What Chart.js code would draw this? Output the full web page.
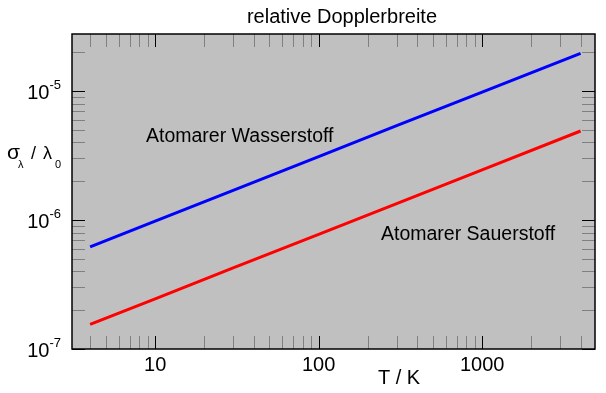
<!DOCTYPE html>
<html>
<head>
<meta charset="utf-8">
<script src="https://cdnjs.cloudflare.com/ajax/libs/Chart.js/4.4.1/chart.umd.min.js"></script>
<style>
  html, body { margin: 0; padding: 0; background: #fff; }
  #wrap { width: 606px; height: 393px; }
</style>
</head>
<body>
<div id="wrap"><canvas id="c" width="606" height="393"></canvas></div>
<script>
// temperature T / K
const temps = [4, 10, 30, 100, 300, 1000, 4000];
// relative Doppler width
const hydrogen = [6.2e-7, 9.8e-7, 1.7e-6, 3.1e-6, 5.4e-6, 9.8e-6, 1.96e-5];
const oxygen   = [1.55e-7, 2.45e-7, 4.25e-7, 7.75e-7, 1.34e-6, 2.45e-6, 4.9e-6];

const xDecades = [10, 100, 1000];
const yDecades = [-7, -6, -5];

const FONT = '"Liberation Sans", Arial, sans-serif';

function pts(ys) {
  return temps.map((t, i) => ({ x: t, y: ys[i] }));
}

/** ticks pointing inward on all four sides + custom labels */
const framePlugin = {
  id: 'frame',
  beforeDraw(chart) {
    const { ctx, chartArea: a } = chart;
    ctx.save();
    ctx.fillStyle = '#fff';
    ctx.fillRect(0, 0, chart.width, chart.height);
    ctx.fillStyle = '#c0c0c0';
    ctx.fillRect(a.left, a.top, a.right - a.left, a.bottom - a.top);
    ctx.restore();
  },
  beforeDatasetsDraw(chart) {
    const { ctx, chartArea: a, scales } = chart;
    const len = 13;
    ctx.save();
    ctx.lineWidth = 1;
    const logTicks = (sc) => {
      const out = [];
      const lo = Math.floor(Math.log10(sc.min)), hi = Math.ceil(Math.log10(sc.max));
      for (let d = lo; d <= hi; d++) {
        for (let m = 1; m <= 9; m++) {
          const v = m * Math.pow(10, d);
          if (v >= sc.min && v <= sc.max) out.push({ v, major: m === 1 });
        }
      }
      return out;
    };
    logTicks(scales.x).forEach(t => {
      const px = Math.round(scales.x.getPixelForValue(t.v)) + 0.5;
      ctx.strokeStyle = t.major ? '#000' : '#808080';
      ctx.beginPath();
      ctx.moveTo(px, a.bottom); ctx.lineTo(px, a.bottom - len);
      ctx.moveTo(px, a.top); ctx.lineTo(px, a.top + len);
      ctx.stroke();
    });
    logTicks(scales.y).forEach(t => {
      const py = Math.round(scales.y.getPixelForValue(t.v)) + 0.5;
      ctx.strokeStyle = t.major ? '#000' : '#808080';
      ctx.beginPath();
      ctx.moveTo(a.left, py); ctx.lineTo(a.left + len, py);
      ctx.moveTo(a.right, py); ctx.lineTo(a.right - len, py);
      ctx.stroke();
    });
    ctx.restore();
  },
  afterDraw(chart) {
    const { ctx, chartArea: a, scales } = chart;
    ctx.save();
    ctx.strokeStyle = '#000';
    ctx.lineWidth = 1.5;
    ctx.strokeRect(a.left, a.top, a.right - a.left, a.bottom - a.top);

    ctx.fillStyle = '#000';
    ctx.textBaseline = 'alphabetic';

    // title
    ctx.font = '20px ' + FONT;
    ctx.textAlign = 'center';
    ctx.fillText('relative Dopplerbreite', 342, 23);

    // x tick labels
    ctx.font = '20px ' + FONT;
    xDecades.forEach(v => {
      ctx.fillText(String(v), scales.x.getPixelForValue(v), 371);
    });
    // x title
    ctx.fillText('T / K', 399, 384);

    // y tick labels 10^n
    yDecades.forEach(e => {
      const py = scales.y.getPixelForValue(Math.pow(10, e));
      ctx.font = '13px ' + FONT;
      ctx.textAlign = 'right';
      const sup = String(e);
      ctx.fillText(sup, 61, py - 2);
      const sw = ctx.measureText(sup).width;
      ctx.font = '20px ' + FONT;
      ctx.fillText('10', 61 - sw, py + 8);
    });

    // y title: sigma_lambda / lambda_0
    ctx.textAlign = 'left';
    ctx.font = '21px ' + FONT;
    ctx.fillText('σ', 7, 159);
    ctx.font = '11px ' + FONT;
    ctx.fillText('λ', 18, 168);
    ctx.font = '18px ' + FONT;
    ctx.fillText('/', 31, 159);
    ctx.fillText('λ', 43, 159);
    ctx.font = '11px ' + FONT;
    ctx.fillText('0', 55, 168);

    // curve annotations
    ctx.font = '19.5px ' + FONT;
    ctx.fillText('Atomarer Wasserstoff', 146, 142);
    ctx.fillText('Atomarer Sauerstoff', 381, 240);
    ctx.restore();
  }
};

new Chart(document.getElementById('c'), {
  type: 'line',
  data: {
    datasets: [
      { label: 'Atomarer Wasserstoff', data: pts(hydrogen), borderColor: '#0000ff' },
      { label: 'Atomarer Sauerstoff', data: pts(oxygen), borderColor: '#ff0000' },
    ].map(ds => ({ ...ds, borderWidth: 3, pointRadius: 0, tension: 0, fill: false })),
  },
  options: {
    responsive: false,
    animation: false,
    layout: { padding: { left: 72, top: 34, right: 11, bottom: 44 } },
    plugins: { legend: { display: false }, tooltip: { enabled: false } },
    scales: {
      x: { type: 'logarithmic', min: 3.1, max: 4900, display: false },
      y: { type: 'logarithmic', min: 1e-7, max: 2.77e-5, display: false },
    },
  },
  plugins: [framePlugin],
});
</script>
</body>
</html>
